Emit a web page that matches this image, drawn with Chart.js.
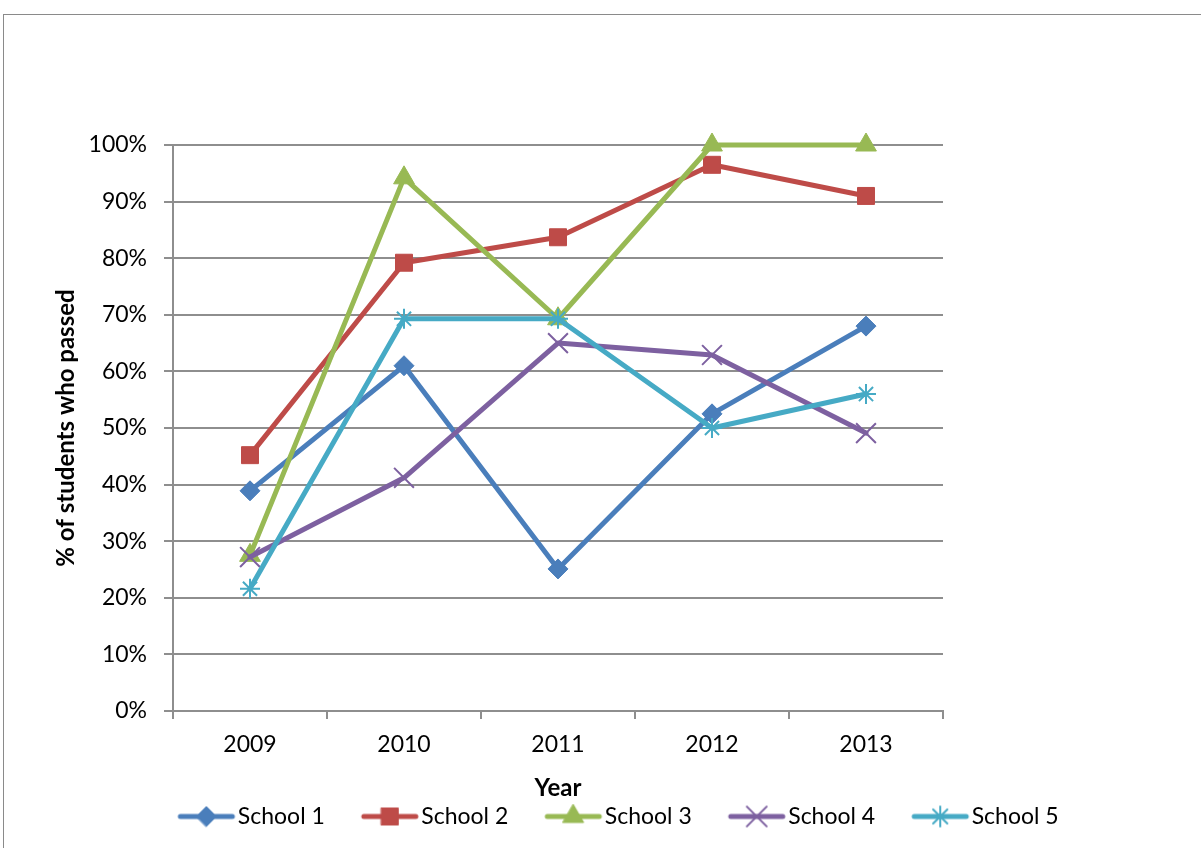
<!DOCTYPE html>
<html>
<head>
<meta charset="utf-8">
<title>% of students who passed</title>
<script src="https://cdn.jsdelivr.net/npm/chart.js@4/dist/chart.umd.min.js"></script>
<style>
  html, body { margin: 0; padding: 0; background: #fff; overflow: hidden; }
  #wrap { position: relative; width: 1201px; height: 848px; overflow: hidden; }
  #frame { position: absolute; left: 3px; top: 14px; width: 1400px; height: 1000px; border: 1px solid #8a8a8a; }
  #grafico { position: absolute; left: 0; top: 0; }
</style>
</head>
<body>
<div id="wrap">
  <div id="frame"></div>
  <canvas id="grafico" width="1201" height="848"></canvas>
</div>
<script>
// anni e percentuali di promossi per scuola
const years = ['2009', '2010', '2011', '2012', '2013'];
const school1 = [38.9, 61.0, 25.1, 52.5, 68.0];
const school2 = [45.2, 79.2, 83.7, 96.5, 91.0];
const school3 = [27.5, 94.2, 69.3, 100, 100];
const school4 = [27.2, 41.2, 65.0, 62.9, 49.1];
const school5 = [21.6, 69.3, 69.3, 50.0, 56.0];

const seriesNames = ['School 1', 'School 2', 'School 3', 'School 4', 'School 5'];
const seriesData = [school1, school2, school3, school4, school5];

// stile delle serie
const colors = ['#4a7ebb', '#be4b48', '#98b954', '#7d60a0', '#46aac5'];
const markers = ['rectRot', 'rect', 'triangle', 'crossRot', 'star'];
const markerRadius = [10, 12, 12, 14, 10];
const markerBorder = [1, 1, 1, 2, 2];

const gridColor = '#8e8e8e';

Chart.defaults.font.family = 'Lato, "Open Sans", sans-serif';
Chart.defaults.font.size = 23;
Chart.defaults.color = '#000';

// icona della legenda: tratto di linea con il marker al centro
function legendIcon(i) {
    let c = document.createElement('canvas');
    c.width = 104;
    c.height = 30;
    let ctx = c.getContext('2d');
    ctx.strokeStyle = colors[i];
    ctx.lineWidth = 5;
    ctx.lineCap = 'round';
    ctx.beginPath();
    ctx.moveTo(48, 15);
    ctx.lineTo(100, 15);
    ctx.stroke();
    ctx.fillStyle = colors[i];
    ctx.lineWidth = markerBorder[i];
    Chart.helpers.drawPoint(ctx, {
        pointStyle: markers[i],
        radius: markerRadius[i],
        rotation: 0,
        borderWidth: markerBorder[i]
    }, 74, 15);
    return c;
}

let datasets = seriesNames.map((name, i) => ({
    label: name,
    data: seriesData[i],
    borderColor: colors[i],
    backgroundColor: colors[i],
    borderWidth: 5,
    borderJoinStyle: 'round',
    borderCapStyle: 'round',
    pointStyle: markers[i],
    pointRadius: markerRadius[i],
    pointHoverRadius: markerRadius[i],
    pointBorderWidth: markerBorder[i],
    pointBackgroundColor: colors[i],
    pointBorderColor: colors[i],
    tension: 0,
    clip: false,
    order: seriesNames.length - i // l'ultima serie sta sopra
}));

let chart = new Chart('grafico', {
    type: 'line',
    data: { labels: years, datasets: datasets },
    options: {
        responsive: false,
        animation: false,
        events: [],
        layout: { padding: { top: 145, left: 0, right: 0, bottom: 10 } },
        plugins: {
            tooltip: { enabled: false },
            legend: {
                position: 'bottom',
                labels: {
                    usePointStyle: true,
                    pointStyleWidth: 84,
                    padding: 1,
                    font: { size: 23 },
                    generateLabels: () => seriesNames.map((name, i) => ({
                        text: name,
                        pointStyle: legendIcon(i),
                        fillStyle: colors[i],
                        strokeStyle: colors[i],
                        lineWidth: 0,
                        hidden: false,
                        datasetIndex: i
                    }))
                }
            }
        },
        scales: {
            x: {
                offset: true,
                grid: {
                    offset: true,
                    drawOnChartArea: false,
                    drawTicks: true,
                    tickLength: 8,
                    color: gridColor,
                    lineWidth: 2
                },
                border: { color: gridColor, width: 2 },
                ticks: { padding: 12, maxRotation: 0 },
                title: {
                    display: true,
                    text: 'Year',
                    font: { size: 24, weight: 'bold' },
                    padding: { top: 0, bottom: 1 }
                },
                afterFit: s => { s.height = 93; }
            },
            y: {
                min: 0,
                max: 100,
                ticks: {
                    stepSize: 10,
                    padding: 17,
                    callback: v => v + '%'
                },
                grid: { color: gridColor, lineWidth: 2, tickLength: 9 },
                border: { color: gridColor, width: 2 },
                title: {
                    display: true,
                    text: '% of students who passed',
                    font: { size: 24, weight: 'bold' },
                    padding: { top: 52, bottom: 0 }
                },
                afterFit: s => { s.width = 173; }
            },
            // asse vuoto a destra per lasciare lo spazio bianco
            y2: {
                position: 'right',
                display: true,
                grid: { display: false },
                border: { display: false },
                ticks: { display: false },
                afterFit: s => { s.width = 258; }
            }
        }
    }
});
</script>
</body>
</html>
